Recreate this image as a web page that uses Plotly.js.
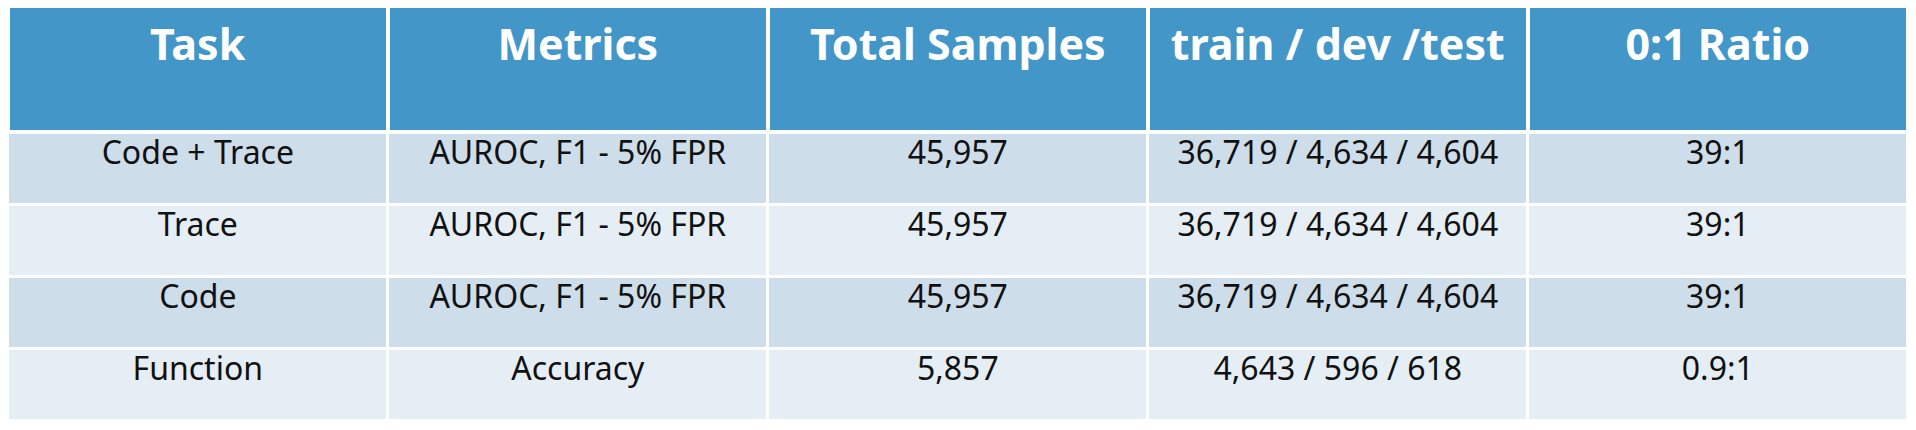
<!DOCTYPE html>
<html><head><script src="https://cdn.plot.ly/plotly-3.0.1.min.js"></script>
<style>body{margin:0;background:#fff}</style></head><body>
<div id="c" style="width:1916px;height:430px"></div>
<script>
const headers = ["Task","Metrics","Total Samples","train / dev /test","0:1 Ratio"];
const tasks = ["Code + Trace","Trace","Code","Function"];
const metrics = ["AUROC, F1 - 5% FPR","AUROC, F1 - 5% FPR","AUROC, F1 - 5% FPR","Accuracy"];
const totals = ["45,957","45,957","45,957","5,857"];
const splits = ["36,719 / 4,634 / 4,604","36,719 / 4,634 / 4,604","36,719 / 4,634 / 4,604","4,643 / 596 / 618"];
const ratios = ["39:1","39:1","39:1","0.9:1"];
const rowColors = ["#CDDDE9","#E6EEF5","#CDDDE9","#E6EEF5"];
Plotly.newPlot("c",[{
  type:"table",
  domain:{x:[0.002,0.998],y:[0,1]},
  columnwidth:[1,1,1,1,1],
  header:{values:headers.map(h=>"<b>"+h+"</b>"),fill:{color:"#4296C8"},
    line:{color:"#ffffff",width:4},align:"center",height:126,
    font:{family:"Noto Sans, Open Sans, sans-serif",size:43,color:"#ffffff"}},
  cells:{values:[tasks,metrics,totals,splits,ratios],
    fill:{color:[rowColors]},line:{color:"#ffffff",width:3},align:"center",height:72,
    font:{family:"Noto Sans, Open Sans, sans-serif",size:32,color:"#111111"}}
}],{margin:{l:4,r:4,t:6,b:0},width:1916,height:430,paper_bgcolor:"#ffffff"},{displayModeBar:false});
</script></body></html>
